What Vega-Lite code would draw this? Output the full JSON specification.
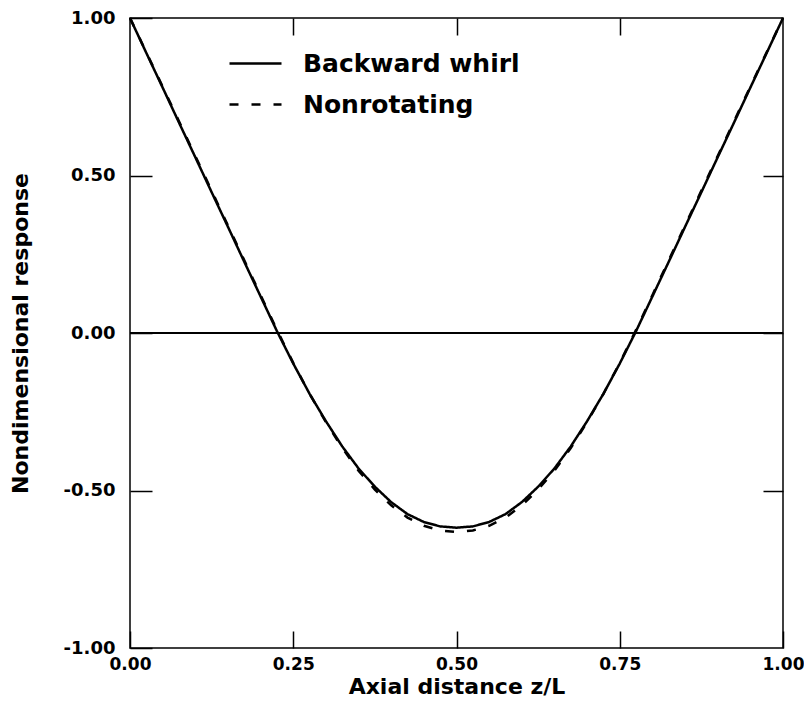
{
  "$schema": "https://vega.github.io/schema/vega-lite/v6.json",
  "width": 653,
  "height": 630,
  "autosize": {"type": "none"},
  "padding": {"left": 130, "top": 18, "right": 21, "bottom": 57},
  "background": "white",
  "config": {
    "view": {"stroke": "black", "strokeWidth": 1.5},
    "font": "DejaVu Sans",
    "axis": {
      "domain": false,
      "grid": false,
      "tickColor": "black",
      "tickWidth": 1.5,
      "labelColor": "black",
      "labelFont": "DejaVu Sans",
      "labelFontWeight": "bold",
      "labelFontSize": 18,
      "titleColor": "black",
      "titleFont": "DejaVu Sans",
      "titleFontWeight": "bold",
      "titleFontSize": 22
    }
  },
  "datasets": {
    "curves": [
      {"z": 0.000, "r": 1.000, "s": "Backward whirl"},
      {"z": 0.025, "r": 0.889, "s": "Backward whirl"},
      {"z": 0.050, "r": 0.779, "s": "Backward whirl"},
      {"z": 0.075, "r": 0.668, "s": "Backward whirl"},
      {"z": 0.100, "r": 0.558, "s": "Backward whirl"},
      {"z": 0.125, "r": 0.447, "s": "Backward whirl"},
      {"z": 0.150, "r": 0.337, "s": "Backward whirl"},
      {"z": 0.175, "r": 0.226, "s": "Backward whirl"},
      {"z": 0.200, "r": 0.116, "s": "Backward whirl"},
      {"z": 0.225, "r": 0.006, "s": "Backward whirl"},
      {"z": 0.250, "r": -0.097, "s": "Backward whirl"},
      {"z": 0.275, "r": -0.193, "s": "Backward whirl"},
      {"z": 0.300, "r": -0.280, "s": "Backward whirl"},
      {"z": 0.325, "r": -0.360, "s": "Backward whirl"},
      {"z": 0.350, "r": -0.430, "s": "Backward whirl"},
      {"z": 0.375, "r": -0.488, "s": "Backward whirl"},
      {"z": 0.400, "r": -0.537, "s": "Backward whirl"},
      {"z": 0.425, "r": -0.575, "s": "Backward whirl"},
      {"z": 0.450, "r": -0.600, "s": "Backward whirl"},
      {"z": 0.475, "r": -0.614, "s": "Backward whirl"},
      {"z": 0.500, "r": -0.618, "s": "Backward whirl"},
      {"z": 0.525, "r": -0.614, "s": "Backward whirl"},
      {"z": 0.550, "r": -0.600, "s": "Backward whirl"},
      {"z": 0.575, "r": -0.575, "s": "Backward whirl"},
      {"z": 0.600, "r": -0.537, "s": "Backward whirl"},
      {"z": 0.625, "r": -0.488, "s": "Backward whirl"},
      {"z": 0.650, "r": -0.430, "s": "Backward whirl"},
      {"z": 0.675, "r": -0.360, "s": "Backward whirl"},
      {"z": 0.700, "r": -0.280, "s": "Backward whirl"},
      {"z": 0.725, "r": -0.193, "s": "Backward whirl"},
      {"z": 0.750, "r": -0.097, "s": "Backward whirl"},
      {"z": 0.775, "r": 0.006, "s": "Backward whirl"},
      {"z": 0.800, "r": 0.116, "s": "Backward whirl"},
      {"z": 0.825, "r": 0.226, "s": "Backward whirl"},
      {"z": 0.850, "r": 0.337, "s": "Backward whirl"},
      {"z": 0.875, "r": 0.447, "s": "Backward whirl"},
      {"z": 0.900, "r": 0.558, "s": "Backward whirl"},
      {"z": 0.925, "r": 0.668, "s": "Backward whirl"},
      {"z": 0.950, "r": 0.779, "s": "Backward whirl"},
      {"z": 0.975, "r": 0.889, "s": "Backward whirl"},
      {"z": 1.000, "r": 1.000, "s": "Backward whirl"},
      {"z": 0.000, "r": 1.000, "s": "Nonrotating"},
      {"z": 0.025, "r": 0.891, "s": "Nonrotating"},
      {"z": 0.050, "r": 0.782, "s": "Nonrotating"},
      {"z": 0.075, "r": 0.672, "s": "Nonrotating"},
      {"z": 0.100, "r": 0.562, "s": "Nonrotating"},
      {"z": 0.125, "r": 0.452, "s": "Nonrotating"},
      {"z": 0.150, "r": 0.341, "s": "Nonrotating"},
      {"z": 0.175, "r": 0.231, "s": "Nonrotating"},
      {"z": 0.200, "r": 0.120, "s": "Nonrotating"},
      {"z": 0.225, "r": 0.010, "s": "Nonrotating"},
      {"z": 0.250, "r": -0.095, "s": "Nonrotating"},
      {"z": 0.275, "r": -0.193, "s": "Nonrotating"},
      {"z": 0.300, "r": -0.283, "s": "Nonrotating"},
      {"z": 0.325, "r": -0.365, "s": "Nonrotating"},
      {"z": 0.350, "r": -0.437, "s": "Nonrotating"},
      {"z": 0.375, "r": -0.497, "s": "Nonrotating"},
      {"z": 0.400, "r": -0.547, "s": "Nonrotating"},
      {"z": 0.425, "r": -0.586, "s": "Nonrotating"},
      {"z": 0.450, "r": -0.612, "s": "Nonrotating"},
      {"z": 0.475, "r": -0.627, "s": "Nonrotating"},
      {"z": 0.500, "r": -0.632, "s": "Nonrotating"},
      {"z": 0.525, "r": -0.627, "s": "Nonrotating"},
      {"z": 0.550, "r": -0.612, "s": "Nonrotating"},
      {"z": 0.575, "r": -0.586, "s": "Nonrotating"},
      {"z": 0.600, "r": -0.547, "s": "Nonrotating"},
      {"z": 0.625, "r": -0.497, "s": "Nonrotating"},
      {"z": 0.650, "r": -0.437, "s": "Nonrotating"},
      {"z": 0.675, "r": -0.365, "s": "Nonrotating"},
      {"z": 0.700, "r": -0.283, "s": "Nonrotating"},
      {"z": 0.725, "r": -0.193, "s": "Nonrotating"},
      {"z": 0.750, "r": -0.095, "s": "Nonrotating"},
      {"z": 0.775, "r": 0.010, "s": "Nonrotating"},
      {"z": 0.800, "r": 0.120, "s": "Nonrotating"},
      {"z": 0.825, "r": 0.231, "s": "Nonrotating"},
      {"z": 0.850, "r": 0.341, "s": "Nonrotating"},
      {"z": 0.875, "r": 0.452, "s": "Nonrotating"},
      {"z": 0.900, "r": 0.562, "s": "Nonrotating"},
      {"z": 0.925, "r": 0.672, "s": "Nonrotating"},
      {"z": 0.950, "r": 0.782, "s": "Nonrotating"},
      {"z": 0.975, "r": 0.891, "s": "Nonrotating"},
      {"z": 1.000, "r": 1.000, "s": "Nonrotating"}
    ],
    "zeroline": [{"v": 0}]
  },
  "layer": [
    {
      "data": {"name": "curves"},
      "mark": {"type": "line", "color": "black", "strokeWidth": 2.5},
      "encoding": {
        "x": {
          "field": "z", "type": "quantitative",
          "scale": {"domain": [0, 1], "nice": false, "zero": false},
          "axis": {
            "orient": "bottom",
            "title": "Axial distance z/L",
            "values": [0, 0.25, 0.5, 0.75, 1],
            "format": ".2f",
            "labelFontSize": 17,
            "offset": -17,
            "tickSize": 17,
            "labelPadding": 8,
            "titlePadding": 4,
            "labelFlush": false
          }
        },
        "y": {
          "field": "r", "type": "quantitative",
          "scale": {"domain": [-1, 1], "nice": false, "zero": false},
          "axis": {
            "orient": "left",
            "title": "Nondimensional response",
            "values": [-1, -0.5, 0, 0.5, 1],
            "labelExpr": "replace(format(datum.value, '.2f'), '\u2212', '-')",
            "offset": -22,
            "tickSize": 22,
            "labelPadding": 15,
            "titlePadding": 31,
            "labelFlush": false
          }
        },
        "strokeDash": {
          "field": "s", "type": "nominal",
          "scale": {"domain": ["Backward whirl", "Nonrotating"], "range": [[1, 0], [9, 13]]},
          "legend": {
            "title": null,
            "orient": "none",
            "legendX": 98,
            "legendY": 18,
            "padding": 0,
            "symbolType": "stroke",
            "symbolSize": 2704,
            "symbolStrokeWidth": 2.5,
            "symbolStrokeColor": "black",
            "labelOffset": 20,
            "labelLimit": 0,
            "labelFont": "DejaVu Sans",
            "labelFontWeight": "bold",
            "labelFontSize": 25,
            "labelColor": "black",
            "rowPadding": -15
          }
        }
      }
    },
    {
      "data": {"name": "zeroline"},
      "mark": {"type": "rule", "color": "black", "strokeWidth": 2},
      "encoding": {
        "y": {
          "field": "v", "type": "quantitative",
          "axis": {
            "orient": "right",
            "title": null,
            "labels": false,
            "values": [-0.5, 0, 0.5],
            "offset": -20,
            "tickSize": 20
          }
        }
      }
    },
    {
      "data": {"name": "curves"},
      "mark": {"type": "point", "opacity": 0},
      "encoding": {
        "x": {
          "field": "z", "type": "quantitative",
          "axis": {
            "orient": "top",
            "title": null,
            "labels": false,
            "values": [0.25, 0.5, 0.75],
            "offset": -17,
            "tickSize": 17
          }
        },
        "y": {"field": "r", "type": "quantitative", "axis": null}
      }
    }
  ],
  "resolve": {"axis": {"x": "independent", "y": "independent"}}
}
